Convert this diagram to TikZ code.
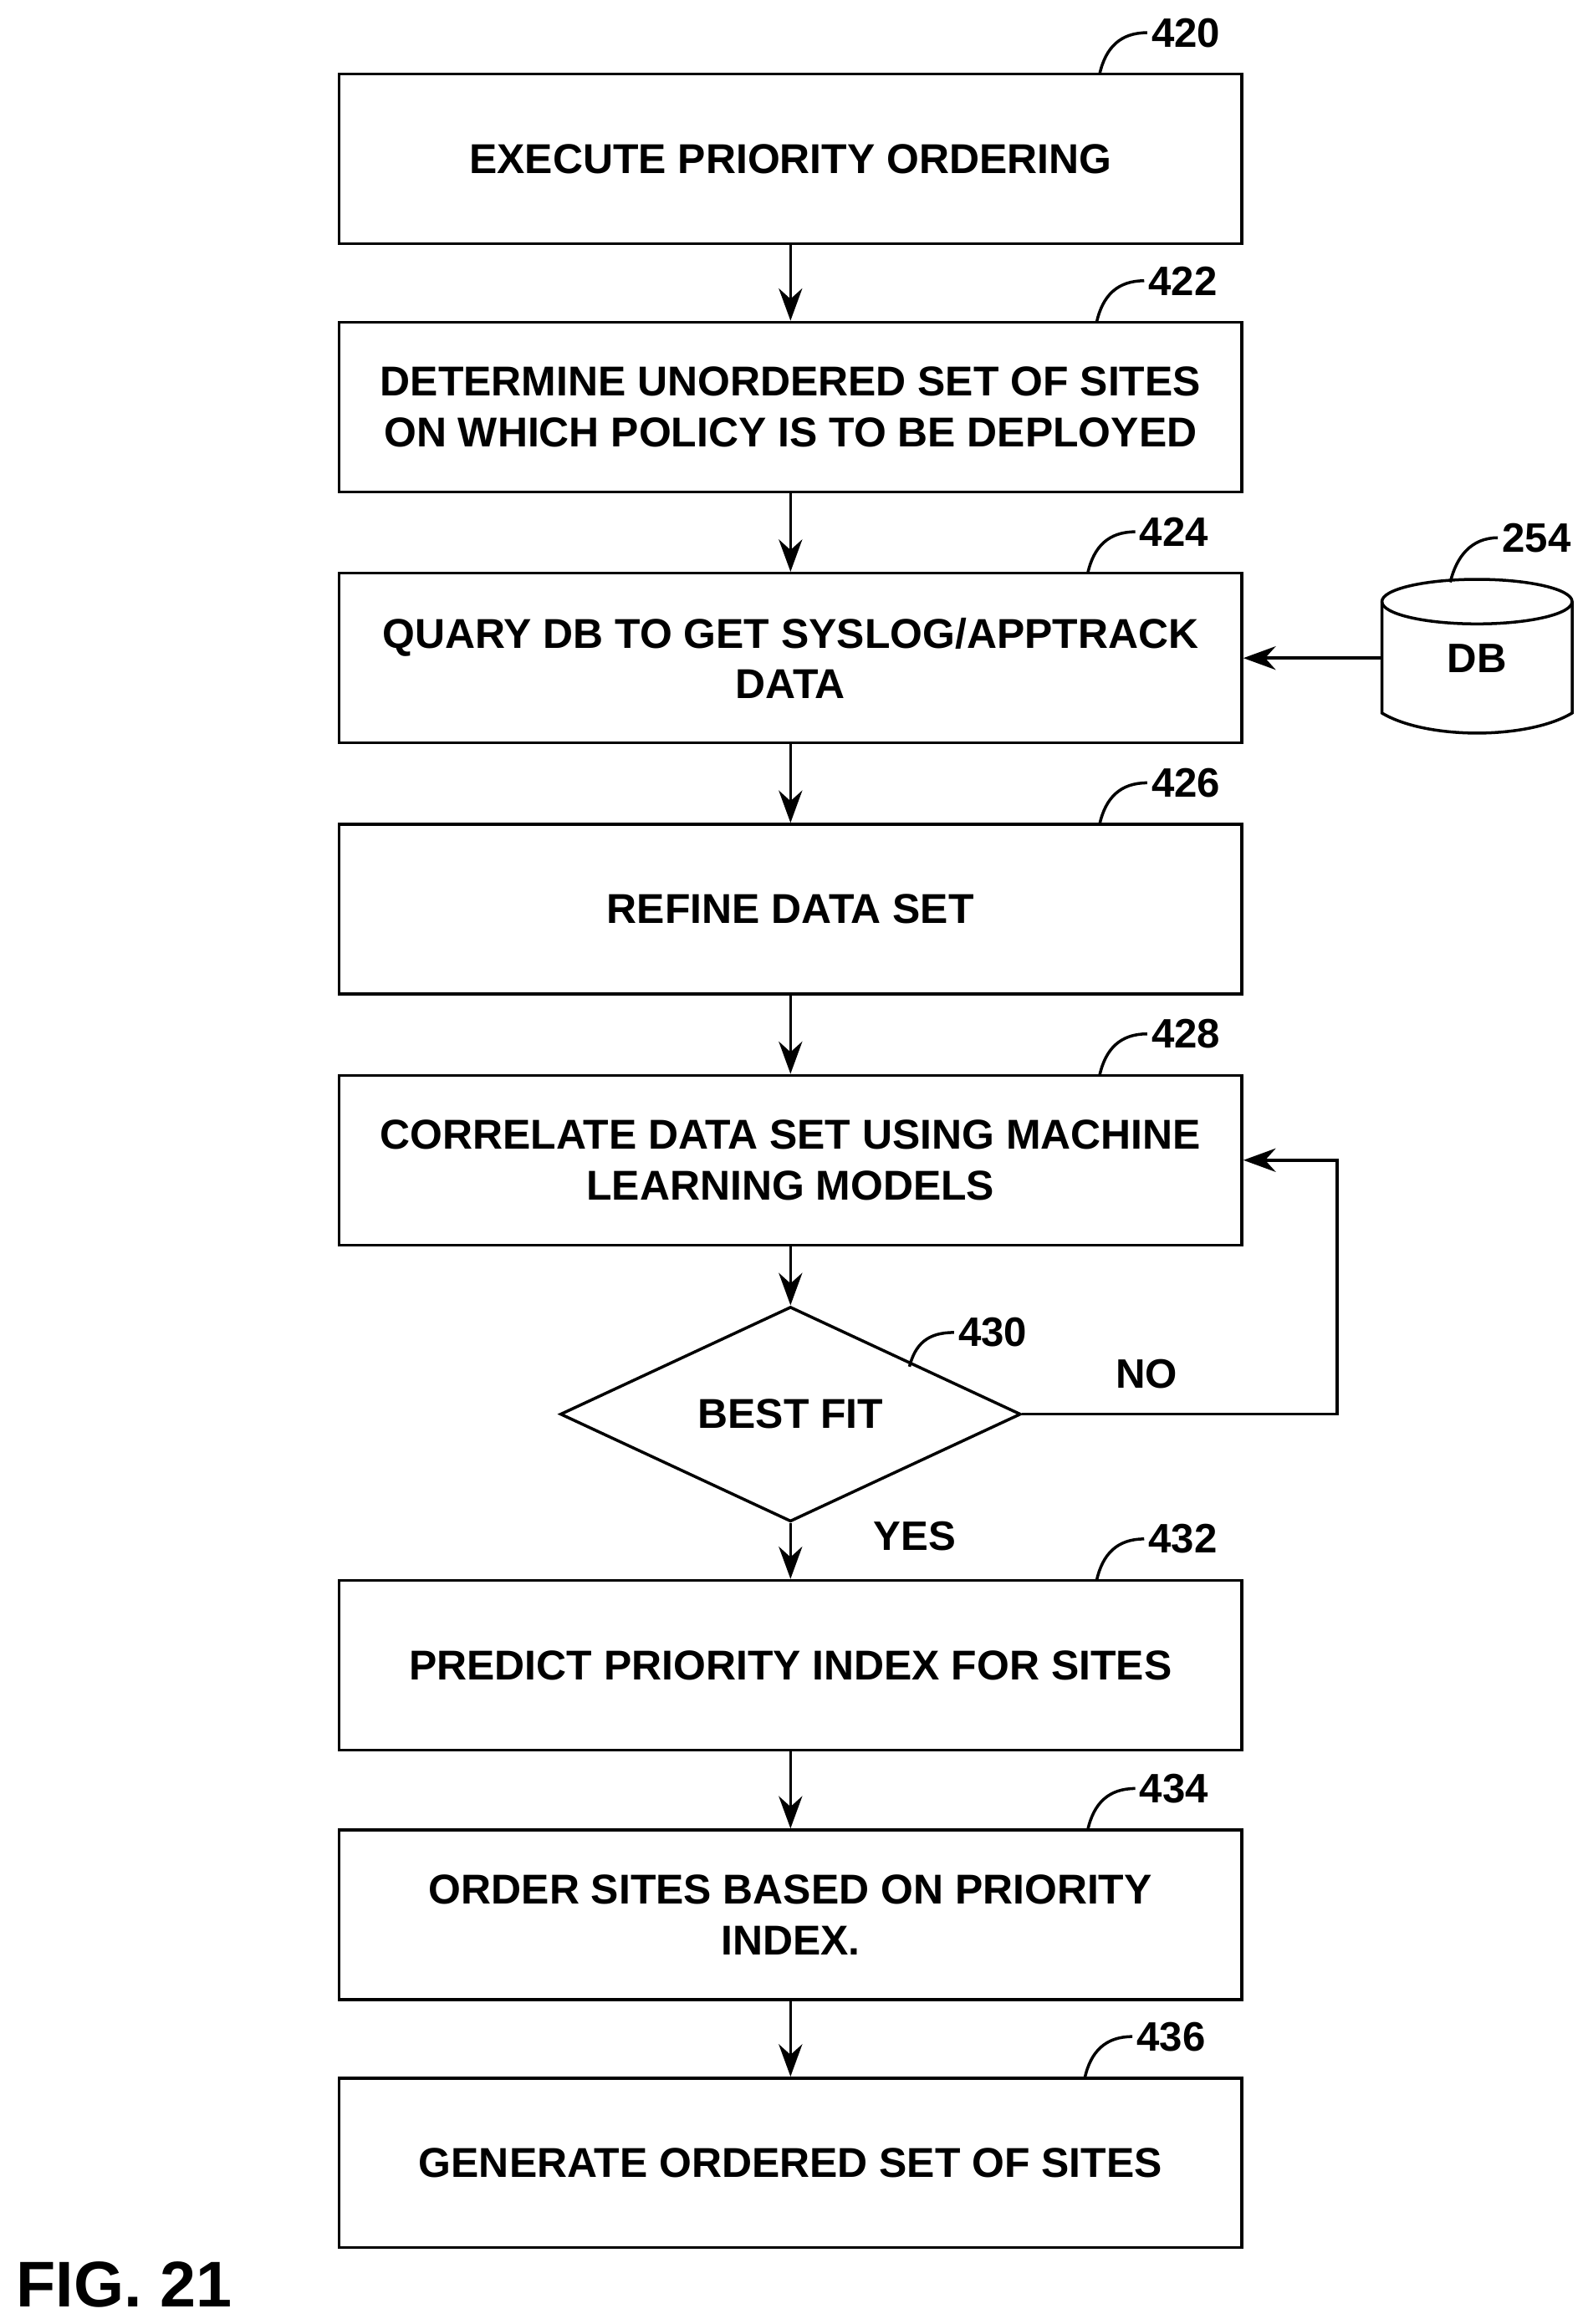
\documentclass[tikz,border=0pt]{standalone}
\usepackage{fontspec}
\setmainfont{Liberation Sans}
\usetikzlibrary{positioning}
\usetikzlibrary{shapes.geometric}
\usetikzlibrary{arrows.meta}
\tikzset{%
  flow/.style = {-{Stealth[length=11pt,width=8pt]},line width=1pt},
  b/.style = {rectangle,draw,line width=1pt,minimum width=10.8cm,
        minimum height=2.03cm,align=center,font=\bfseries\fontsize{14.2}{17.2}\selectfont},
  d/.style = {diamond,draw,line width=1pt,inner sep=0pt,minimum width=5.51cm,
        minimum height=1.75cm,font=\bfseries\fontsize{14.2}{17}\selectfont},
  lbl/.style = {anchor=west,inner sep=1pt,font=\bfseries\fontsize{14}{17}\selectfont}
}

\begin{document}
\begin{tikzpicture}[x=0.01777cm,y=-0.01777cm,line width=1pt]
    \useasboundingbox (0,0) rectangle (1068.5,1564.5);
    % process boxes
    \node[b] (s420) at (532,107) {EXECUTE PRIORITY ORDERING};
    \node[b] (s422) at (532,274) {DETERMINE UNORDERED SET OF SITES\\ON WHICH POLICY IS TO BE DEPLOYED};
    \node[b] (s424) at (532,443) {QUARY DB TO GET SYSLOG/APPTRACK\\DATA};
    \node[b] (s426) at (532,612) {REFINE DATA SET};
    \node[b] (s428) at (532,781) {CORRELATE DATA SET USING MACHINE\\LEARNING MODELS};
    \node[d] (s430) at (532,952) {BEST FIT};
    \node[b] (s432) at (532,1121) {PREDICT PRIORITY INDEX FOR SITES};
    \node[b] (s434) at (532,1289) {ORDER SITES BASED ON PRIORITY\\INDEX.};
    \node[b] (s436) at (532,1456) {GENERATE ORDERED SET OF SITES};
    % database
    \node[font=\bfseries\fontsize{14}{17}\selectfont,minimum width=2.27cm,minimum height=1.5cm] (db) at (994,443) {DB};
    \draw (930,405) -- (930,480) .. controls (960,498) and (1028,498) .. (1058,480) -- (1058,405);
    \draw (994,405) ellipse [x radius=64,y radius=15];
    % reference numerals
    \foreach \n/\x/\y in {420/740/50, 422/738/217, 424/732/386, 426/740/555, 428/740/724,
                          432/738/1064, 434/732/1232, 436/730/1399}{
        \draw (\x,\y) .. controls (\x+4,\y-18) and (\x+14,\y-28) .. (\x+32,\y-28)
            node[lbl] (r\n) {\n};
    }
    \draw (612,920) .. controls (616,905) and (624,897) .. (642,897) node[lbl] (r430) {430};
    \draw (976,392) .. controls (980,375) and (990,362) .. (1008,362) node[lbl] (r254) {254};
    % connectors
    \draw[flow] (s420) -- (s422);
    \draw[flow] (s422) -- (s424);
    \draw[flow] (s424) -- (s426);
    \draw[flow] (s426) -- (s428);
    \draw[flow] (s428) -- (s430);
    \draw[flow] (s430) -- (s432);
    \draw[flow] (s432) -- (s434);
    \draw[flow] (s434) -- (s436);
    \draw[flow] (db.west) -- (s424.east);
    \coordinate (loop) at (900,952);
    \draw[flow] (s430.east) -- (loop) |- (s428.east);
    \node[lbl] (no) at (748,925) {NO};
    \node[lbl] (yes) at (585,1034) {YES};
    \node[anchor=west,inner sep=0pt,font=\bfseries\fontsize{22}{26}\selectfont] (fig) at (10,1538) {FIG. 21};
\end{tikzpicture}
\end{document}
